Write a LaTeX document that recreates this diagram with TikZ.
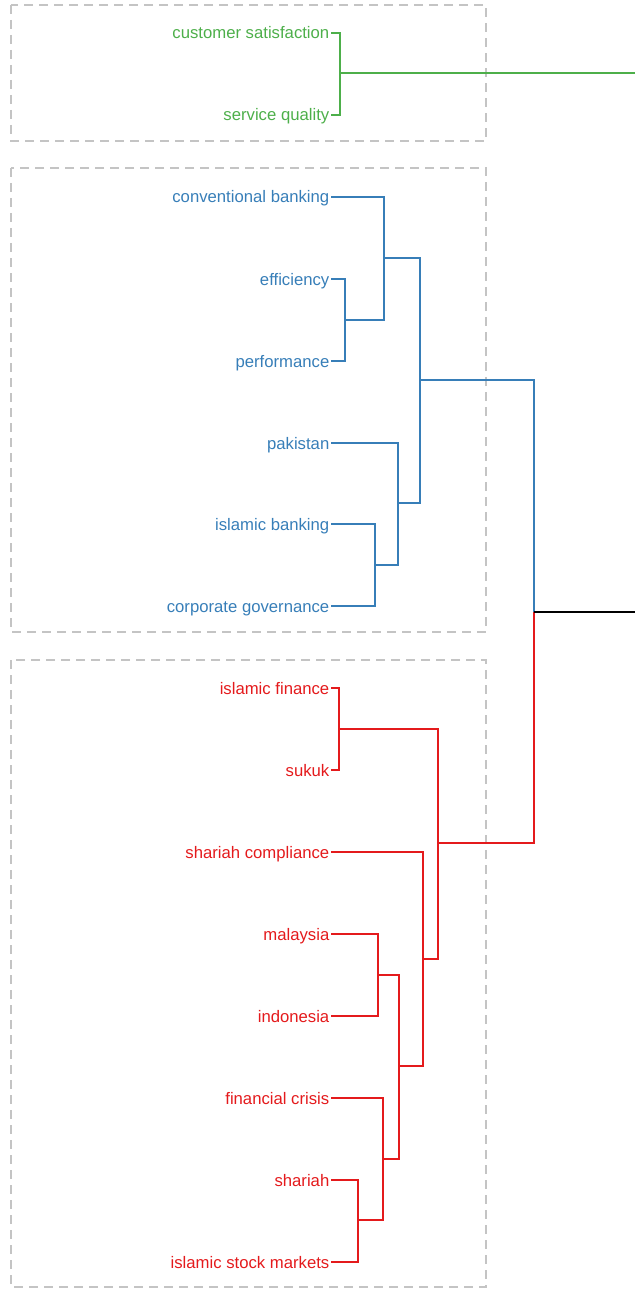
\documentclass[tikz,border=0pt]{standalone}
\usepackage{fontspec}
\setmainfont{Liberation Sans}
\definecolor{cgreen}{HTML}{4DAF4A}
\definecolor{cblue}{HTML}{377EB8}
\definecolor{cred}{HTML}{E41A1C}
\definecolor{cgray}{HTML}{C4C4C4}
\begin{document}
\begin{tikzpicture}[x=1pt,y=-1pt,
  leaf/.style={anchor=base east,inner ysep=0pt,inner xsep=1.5pt,yshift=-6pt,font=\fontsize{16.7}{19}\selectfont},
  stub/.style={yshift=6pt},
  branch/.style={line width=2pt},
  clusterbox/.style={draw=cgray,line width=2pt,dash pattern=on 9pt off 6pt}]
\useasboundingbox (0,0) rectangle (635,1289);
% cluster boxes
\draw[clusterbox] (11,5) rectangle (486,141);
\draw[clusterbox] (11,168) rectangle (486,632);
\draw[clusterbox] (11,660) rectangle (486,1287);
% green cluster
\node[leaf,text=cgreen] (cs) at (331,33) {customer satisfaction};
\node[leaf,text=cgreen] (sq) at (331,115) {service quality};
\coordinate (g1) at (340,73);
\coordinate (gend) at (635,73);
\draw[branch,cgreen] ([stub]cs.base east) -| (g1);
\draw[branch,cgreen] ([stub]sq.base east) -| (g1);
\draw[branch,cgreen] (g1) -- (gend);
% blue cluster
\node[leaf,text=cblue] (cb) at (331,197) {conventional banking};
\node[leaf,text=cblue] (ef) at (331,279) {efficiency};
\node[leaf,text=cblue] (pe) at (331,361) {performance};
\node[leaf,text=cblue] (pk) at (331,443) {pakistan};
\node[leaf,text=cblue] (ib) at (331,524) {islamic banking};
\node[leaf,text=cblue] (cg) at (331,606) {corporate governance};
\coordinate (b1) at (345,320);
\coordinate (b2) at (384,258);
\coordinate (b3) at (375,565);
\coordinate (b4) at (398,503);
\coordinate (b5) at (420,380);
\draw[branch,cblue] ([stub]ef.base east) -| (b1);
\draw[branch,cblue] ([stub]pe.base east) -| (b1);
\draw[branch,cblue] (b1) -| (b2);
\draw[branch,cblue] ([stub]cb.base east) -| (b2);
\draw[branch,cblue] ([stub]ib.base east) -| (b3);
\draw[branch,cblue] ([stub]cg.base east) -| (b3);
\draw[branch,cblue] (b3) -| (b4);
\draw[branch,cblue] ([stub]pk.base east) -| (b4);
\draw[branch,cblue] (b2) -| (b5);
\draw[branch,cblue] (b4) -| (b5);
% red cluster
\node[leaf,text=cred] (if) at (331,688) {islamic finance};
\node[leaf,text=cred] (su) at (331,770) {sukuk};
\node[leaf,text=cred] (sc) at (331,852) {shariah compliance};
\node[leaf,text=cred] (my) at (331,934) {malaysia};
\node[leaf,text=cred] (id) at (331,1016) {indonesia};
\node[leaf,text=cred] (fc) at (331,1098) {financial crisis};
\node[leaf,text=cred] (sh) at (331,1180) {shariah};
\node[leaf,text=cred] (ism) at (331,1262) {islamic stock markets};
\coordinate (r1) at (339,729);
\coordinate (r2) at (378,975);
\coordinate (r3) at (358,1220);
\coordinate (r4) at (383,1159);
\coordinate (r5) at (399,1066);
\coordinate (r6) at (423,959);
\coordinate (r7) at (438,843);
\draw[branch,cred] ([stub]if.base east) -| (r1);
\draw[branch,cred] ([stub]su.base east) -| (r1);
\draw[branch,cred] ([stub]my.base east) -| (r2);
\draw[branch,cred] ([stub]id.base east) -| (r2);
\draw[branch,cred] ([stub]sh.base east) -| (r3);
\draw[branch,cred] ([stub]ism.base east) -| (r3);
\draw[branch,cred] ([stub]fc.base east) -| (r4);
\draw[branch,cred] (r3) -| (r4);
\draw[branch,cred] (r2) -| (r5);
\draw[branch,cred] (r4) -| (r5);
\draw[branch,cred] ([stub]sc.base east) -| (r6);
\draw[branch,cred] (r5) -| (r6);
\draw[branch,cred] (r1) -| (r7);
\draw[branch,cred] (r6) -| (r7);
% root
\coordinate (root) at (534,612);
\coordinate (rootend) at (635,612);
\draw[branch,cblue] (b5) -| (root);
\draw[branch,cred] (r7) -| (root);
\draw[branch,black] (root) -- (rootend);
\end{tikzpicture}
\end{document}
